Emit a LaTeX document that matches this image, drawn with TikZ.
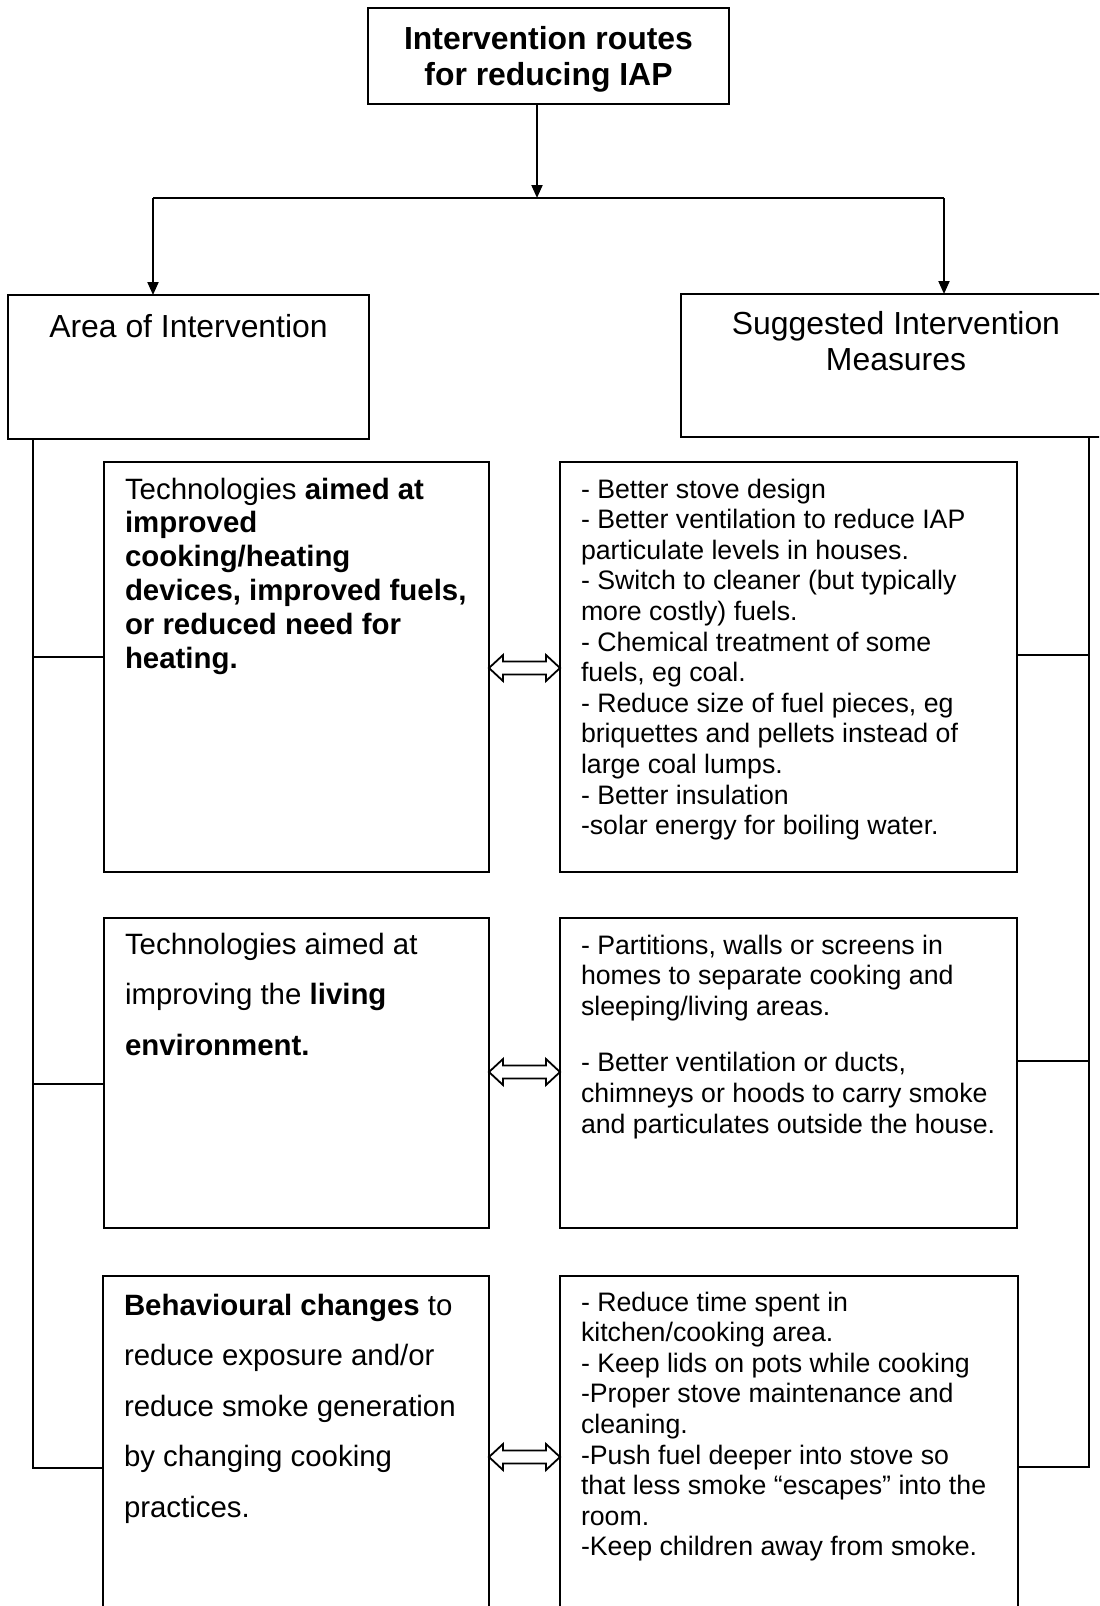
\documentclass[tikz,border=0pt]{standalone}
\usepackage{fontspec}
\setmainfont{Liberation Sans}
\usetikzlibrary{arrows.meta,fit}

% font sizes used in the chart
\newcommand\fhead{\fontsize{15.95pt}{18.45pt}\selectfont}
\newcommand\fleft{\fontsize{14.7pt}{16.9pt}\selectfont}
\newcommand\fleftwide{\fontsize{14.7pt}{25.3pt}\selectfont}
\newcommand\fright{\fontsize{13.35pt}{15.3pt}\selectfont}

\begin{document}
\begin{tikzpicture}[x=0.5pt,y=-0.5pt,
  box/.style={draw, rectangle, line width=1pt, inner sep=0pt, outer sep=0pt},
  txt/.style={anchor=base west, inner sep=0pt, outer sep=0pt},
  ctxt/.style={anchor=base, inner sep=0pt, outer sep=0pt},
  wire/.style={draw, line width=1pt},
  arrow/.style={wire, -{Triangle[width=5.5pt,length=6.5pt]}},
  twoway/.style={draw, line width=0.9pt, fill=white, line join=miter},
  pics/twoway/.style={code={
    \draw[twoway] (0,0) -- (14,-13) -- (14,-6.5) -- (57,-6.5) -- (57,-13)
      -- (71,0) -- (57,13) -- (57,6.5) -- (14,6.5) -- (14,13) -- cycle;}}
]
\useasboundingbox (0,0) rectangle (1099,1606);
\clip (0,0) rectangle (1099,1606);

% ---- boxes ----
\node[box, fit={(368,8) (729,104)}] (top) {};
\node[box, fit={(8,295) (369,439)}] (area) {};
\node[box, fit={(681,294) (1111,437)}] (sugg) {};

\node[box, fit={(104,462) (489,872)}] (b1l) {};
\node[box, fit={(560,462) (1017,872)}] (b1r) {};
\node[box, fit={(104,918) (489,1228)}] (b2l) {};
\node[box, fit={(560,918) (1017,1228)}] (b2r) {};
\node[box, fit={(103,1276) (489,1640)}] (b3l) {};
\node[box, fit={(560,1276) (1018,1640)}] (b3r) {};

% ---- texts ----
\node[ctxt] (toptxt) at (548.5,49) {\parbox[t]{300pt}{\centering\fhead\bfseries
  Intervention routes\\for reducing IAP}};
\node[ctxt] (areatxt) at (188.5,337) {\fhead Area of Intervention};
\node[ctxt] (suggtxt) at (896,334) {\parbox[t]{300pt}{\centering\fhead
  Suggested Intervention\\Measures}};

\node[txt] (t1l) at (125,499) {\parbox[t]{250pt}{\raggedright\fleft
  Technologies \textbf{aimed at}\\
  \textbf{improved}\\
  \textbf{cooking/heating}\\
  \textbf{devices, improved fuels,}\\
  \textbf{or reduced need for}\\
  \textbf{heating.}}};

\node[txt] (t1r) at (581,498) {\parbox[t]{250pt}{\raggedright\fright
  - Better stove design\\
  - Better ventilation to reduce IAP\\
  particulate levels in houses.\\
  - Switch to cleaner (but typically\\
  more costly) fuels.\\
  - Chemical treatment of some\\
  fuels, eg coal.\\
  - Reduce size of fuel pieces, eg\\
  briquettes and pellets instead of\\
  large coal lumps.\\
  - Better insulation\\
  -solar energy for boiling water.}};

\node[txt] (t2l) at (125,954) {\parbox[t]{250pt}{\raggedright\fleftwide
  Technologies aimed at\\
  improving the \textbf{living}\\
  \textbf{environment.}}};

\node[txt] (t2r) at (581,954) {\parbox[t]{250pt}{\raggedright\fright
  - Partitions, walls or screens in\\
  homes to separate cooking and\\
  sleeping/living areas.\\[13pt]
  - Better ventilation or ducts,\\
  chimneys or hoods to carry smoke\\
  and particulates outside the house.}};

\node[txt] (t3l) at (124,1315) {\parbox[t]{250pt}{\raggedright\fleftwide
  \textbf{Behavioural changes} to\\
  reduce exposure and/or\\
  reduce smoke generation\\
  by changing cooking\\
  practices.}};

\node[txt] (t3r) at (581,1311) {\parbox[t]{250pt}{\raggedright\fright
  - Reduce time spent in\\
  kitchen/cooking area.\\
  - Keep lids on pots while cooking\\
  -Proper stove maintenance and\\
  cleaning.\\
  -Push fuel deeper into stove so\\
  that less smoke \textquotedblleft escapes\textquotedblright{} into the\\
  room.\\
  -Keep children away from smoke.}};

% ---- split below the title ----
\coordinate (split) at (537,198);
\coordinate (jl) at (153,198);
\coordinate (jr) at (944,198);
\draw[arrow] (top.south -| split) -- (split);
\draw[wire] (jl) -- (jr);
\draw[arrow] (jl) -- (jl |- area.north);
\draw[arrow] (jr) -- (jr |- sugg.north);

% ---- left spine ----
\coordinate (L1) at (33,657);
\coordinate (L2) at (33,1084);
\coordinate (L3) at (33,1468);
\draw[wire] (area.south -| L1) -- (L3) -- (b3l.west |- L3);
\draw[wire] (L1) -- (b1l.west |- L1);
\draw[wire] (L2) -- (b2l.west |- L2);

% ---- right spine ----
\coordinate (R1) at (1089,655);
\coordinate (R2) at (1089,1061);
\coordinate (R3) at (1089,1467);
\draw[wire] (sugg.south -| R1) -- (R3) -- (b3r.east |- R3);
\draw[wire] (R1) -- (b1r.east |- R1);
\draw[wire] (R2) -- (b2r.east |- R2);

% ---- two-way arrows between the columns ----
\coordinate (A1) at (500,668);
\coordinate (A2) at (500,1072);
\coordinate (A3) at (500,1457);
\pic at (b1l.east |- A1) {twoway};
\pic at (b2l.east |- A2) {twoway};
\pic at (b3l.east |- A3) {twoway};
\end{tikzpicture}
\end{document}
